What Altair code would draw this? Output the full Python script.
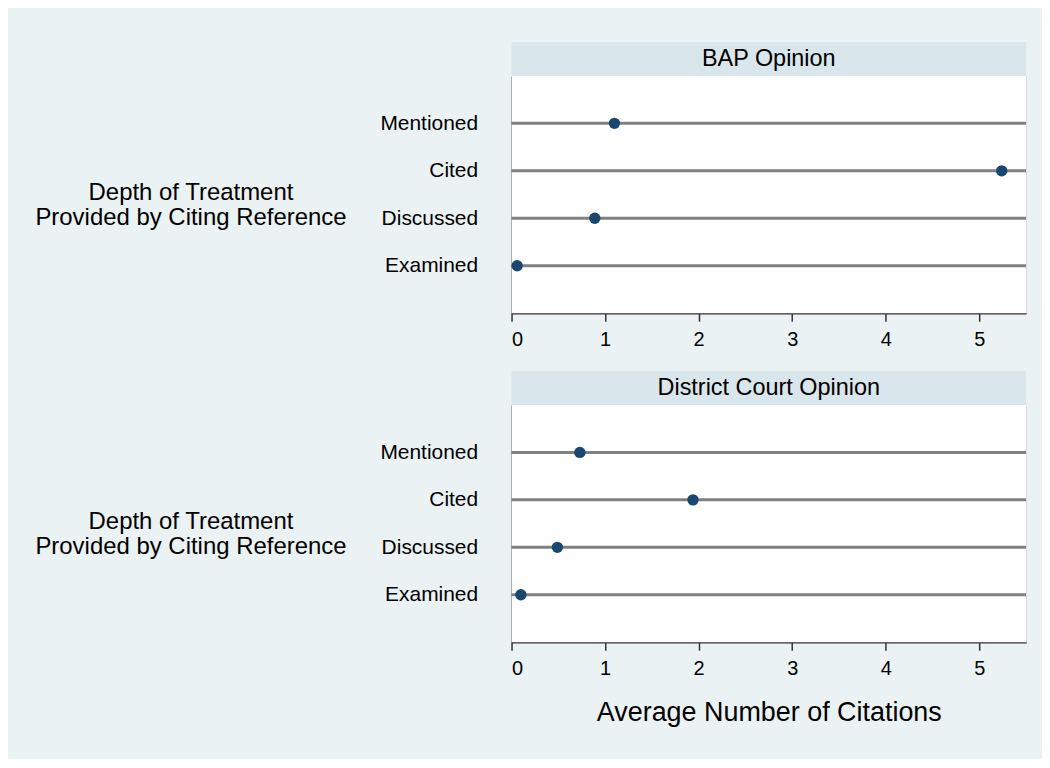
import altair as alt
import pandas as pd

categories = ["Mentioned", "Cited", "Discussed", "Examined"]
bap_values = [1.10, 5.24, 0.89, 0.06]
district_values = [0.73, 1.94, 0.49, 0.10]
panel_titles = ["BAP Opinion", "District Court Opinion"]
x_ticks = [0, 1, 2, 3, 4, 5]
y_title = ["Depth of Treatment", "Provided by Citing Reference"]
x_title = "Average Number of Citations"

FONT = "Liberation Sans"
W = 516
H = 238
HEADER = 34


def panel(title, values, show_x_title):
    df = pd.DataFrame({"cat": categories, "val": values})
    y_axis = alt.Axis(
        title=y_title, titleAngle=0, titleAlign="center", titleBaseline="middle",
        titleX=-322, titleY=H / 2 - 2, titleFontSize=24, titleFontWeight="normal",
        titleLineHeight=25, titleColor="black", titleFont=FONT,
        labelFontSize=21, labelPadding=34, labelColor="black", labelFont=FONT,
        ticks=False, domainColor="#333333", domainWidth=1.5, grid=False,
    )
    y_enc = alt.Y("cat:N", sort=categories,
                  scale=alt.Scale(type="point", padding=1), axis=y_axis)
    x_axis_kwargs = dict(
        values=x_ticks, format="d", labelFontSize=20, labelColor="black", labelFont=FONT,
        labelPadding=8, tickSize=8, tickColor="#333333", tickWidth=1.5,
        domainColor="#333333", domainWidth=1.5, grid=False,
    )
    if show_x_title:
        x_axis = alt.Axis(title=x_title, titleFontSize=27, titleFontWeight="normal",
                          titleColor="black", titleFont=FONT, titlePadding=21,
                          **x_axis_kwargs)
    else:
        x_axis = alt.Axis(title=None, **x_axis_kwargs)
    x_enc = alt.X("val:Q", scale=alt.Scale(domain=[0, 5.5], nice=False), axis=x_axis)

    hdf = pd.DataFrame({"t": [title]})
    header_rect = alt.Chart(hdf).mark_rect(color="#D9E6EB").encode(
        x=alt.value(0), x2=alt.value(W), y=alt.value(-HEADER), y2=alt.value(0)
    )
    plot_bg = alt.Chart(hdf).mark_rect(color="#FFFFFF").encode(
        x=alt.value(0), x2=alt.value(W), y=alt.value(0), y2=alt.value(H)
    )
    header_text = alt.Chart(hdf).mark_text(
        fontSize=23.5, font=FONT, color="black", baseline="middle", align="center"
    ).encode(text="t:N", x=alt.value(W / 2), y=alt.value(-HEADER / 2))

    base = alt.Chart(df)
    rules = base.mark_rule(color="#808080", strokeWidth=3).encode(
        y=y_enc, x=alt.value(0), x2=alt.value(W)
    )
    points = base.mark_circle(size=130, color="#1A476F", opacity=1).encode(
        y=y_enc, x=x_enc
    )
    return alt.layer(header_rect, plot_bg, header_text, rules, points).properties(
        width=W, height=H
    )


p1 = panel(panel_titles[0], bap_values, False)
p2 = panel(panel_titles[1], district_values, True)

chart = alt.vconcat(p1, p2, spacing=20).properties(
    background="#EAF2F3",
    padding={"left": 26, "top": 32, "right": 14, "bottom": 32},
).configure_view(fill="white", stroke=None).configure(font=FONT)

chart.save("out.html", embed_options={"renderer": "svg", "actions": False})
